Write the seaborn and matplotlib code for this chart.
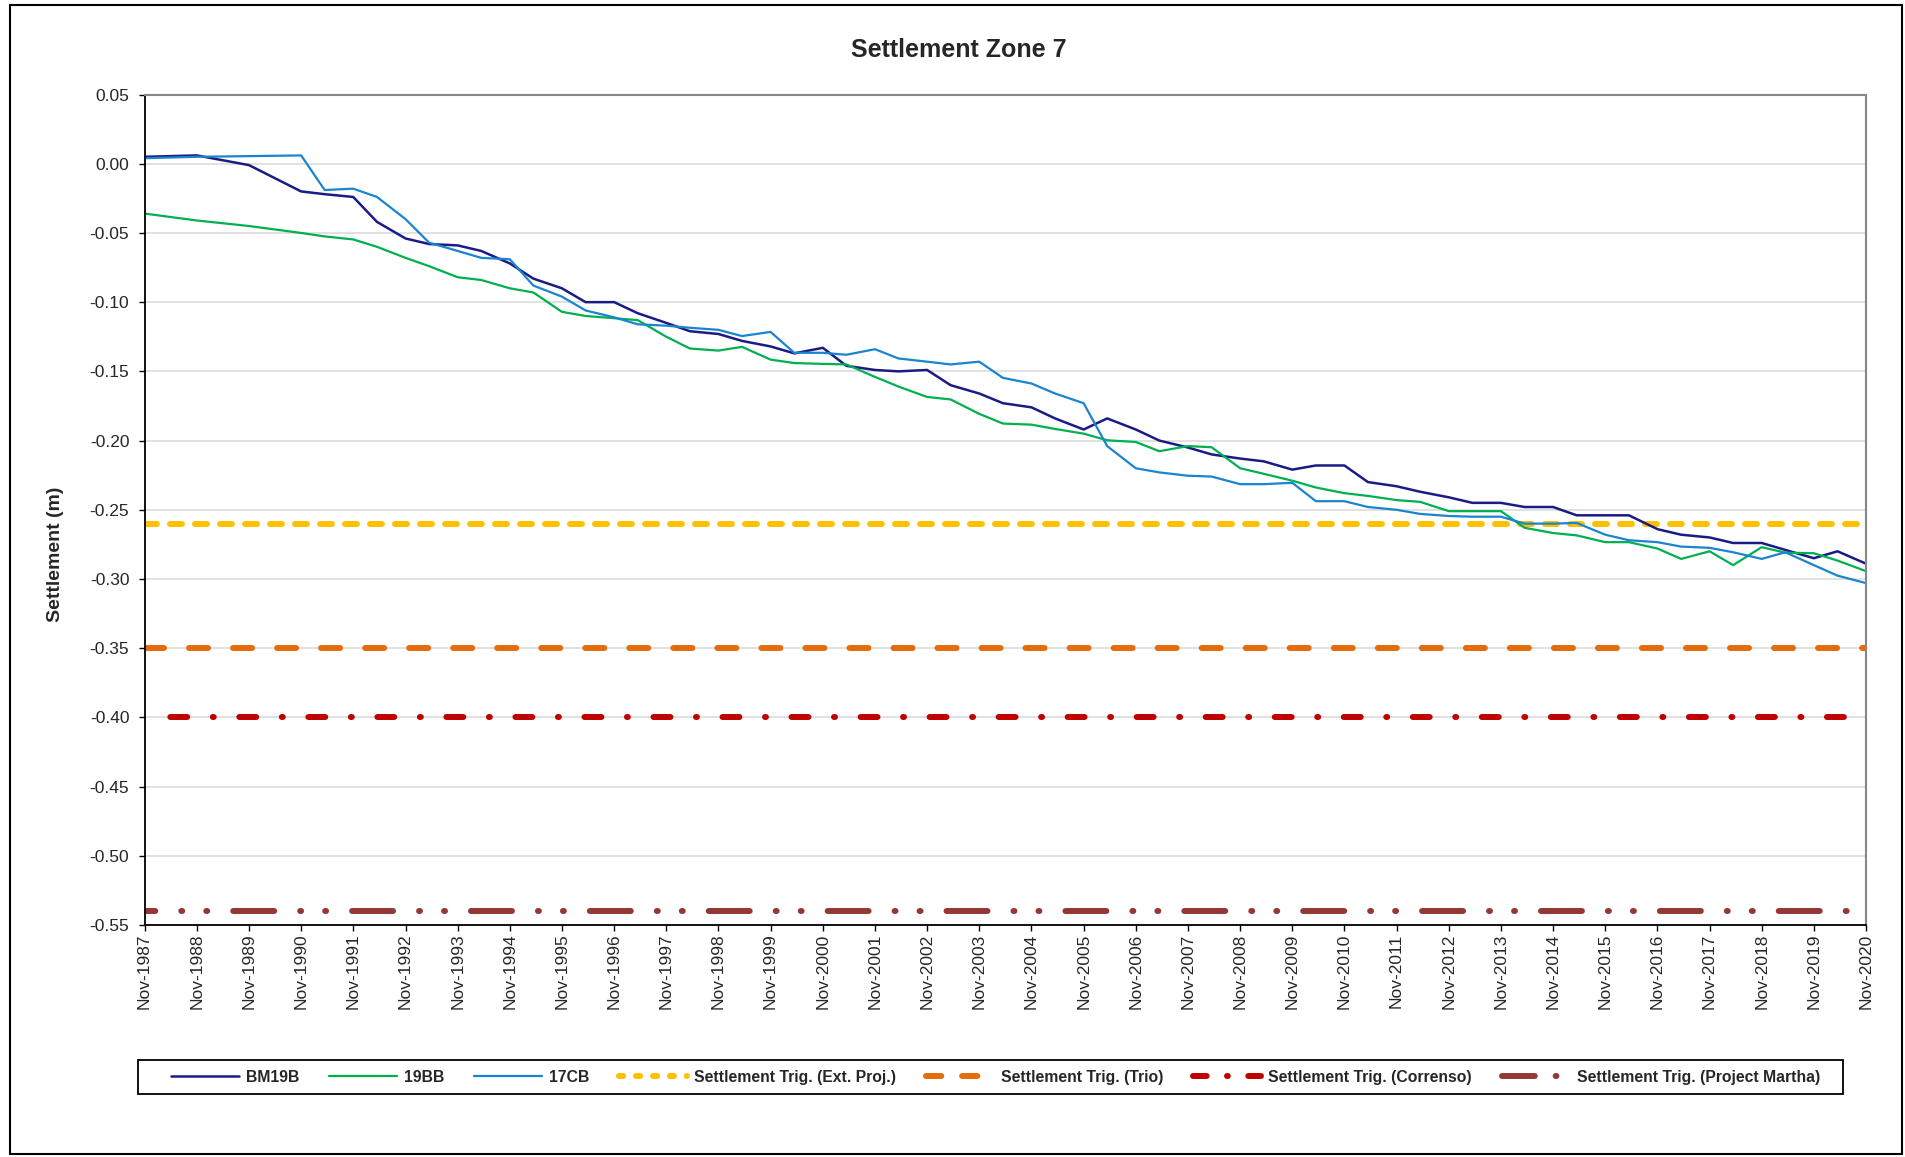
'''Settlement monitoring chart for zone 7 with trigger levels.'''

import pandas as pd
import matplotlib
matplotlib.use('Agg')
import matplotlib.pyplot as plt
import matplotlib.dates as mdates
from matplotlib.lines import Line2D
from matplotlib.patches import Rectangle
import seaborn as sns

#survey dates (annual to 1990, then April / November)
survey_dates = [
    '1987-11-01', '1988-11-01', '1989-11-01', '1990-11-01',
    '1991-04-15', '1991-11-01', '1992-04-15', '1992-11-01', '1993-04-15', '1993-11-01',
    '1994-04-15', '1994-11-01', '1995-04-15', '1995-11-01', '1996-04-15', '1996-11-01',
    '1997-04-15', '1997-11-01', '1998-04-15', '1998-11-01', '1999-04-15', '1999-11-01',
    '2000-04-15', '2000-11-01', '2001-04-15', '2001-11-01', '2002-04-15', '2002-11-01',
    '2003-04-15', '2003-11-01', '2004-04-15', '2004-11-01', '2005-04-15', '2005-11-01',
    '2006-04-15', '2006-11-01', '2007-04-15', '2007-11-01', '2008-04-15', '2008-11-01',
    '2009-04-15', '2009-11-01', '2010-04-15', '2010-11-01', '2011-04-15', '2011-11-01',
    '2012-04-15', '2012-11-01', '2013-04-15', '2013-11-01', '2014-04-15', '2014-11-01',
    '2015-04-15', '2015-11-01', '2016-04-15', '2016-11-01', '2017-04-15', '2017-11-01',
    '2018-04-15', '2018-11-01', '2019-04-15', '2019-11-01', '2020-04-15', '2020-11-01',
]

#settlement readings (m)
bm19b = [
    0.005, 0.006, -0.001, -0.020,
    -0.022, -0.024, -0.042, -0.054, -0.058, -0.059,
    -0.063, -0.072, -0.083, -0.090, -0.100, -0.100,
    -0.108, -0.115, -0.121, -0.123, -0.128, -0.132,
    -0.137, -0.133, -0.146, -0.149, -0.150, -0.149,
    -0.160, -0.166, -0.173, -0.176, -0.184, -0.192,
    -0.184, -0.192, -0.200, -0.205, -0.210, -0.213,
    -0.215, -0.221, -0.218, -0.218, -0.230, -0.233,
    -0.237, -0.241, -0.245, -0.245, -0.248, -0.248,
    -0.254, -0.254, -0.254, -0.264, -0.268, -0.270,
    -0.274, -0.274, -0.279, -0.285, -0.280, -0.289,
]
bb19 = [
    -0.036, -0.041, -0.045, -0.050,
    -0.0525, -0.0547, -0.060, -0.068, -0.074, -0.082,
    -0.084, -0.090, -0.093, -0.107, -0.110, -0.1116,
    -0.113, -0.125, -0.1335, -0.135, -0.1323, -0.1415,
    -0.144, -0.1446, -0.145, -0.154, -0.161, -0.1685,
    -0.1703, -0.1807, -0.1877, -0.1885, -0.1916, -0.195,
    -0.1998, -0.201, -0.2077, -0.204, -0.2048, -0.220,
    -0.224, -0.229, -0.2339, -0.238, -0.240, -0.243,
    -0.2443, -0.251, -0.251, -0.251, -0.263, -0.2668,
    -0.2685, -0.2734, -0.2734, -0.278, -0.2855, -0.280,
    -0.290, -0.277, -0.281, -0.2814, -0.2867, -0.2944,
]
cb17 = [
    0.004, 0.005, 0.0055, 0.006,
    -0.019, -0.018, -0.024, -0.040, -0.057, -0.063,
    -0.068, -0.069, -0.088, -0.096, -0.106, -0.111,
    -0.116, -0.117, -0.1185, -0.120, -0.1245, -0.1215,
    -0.1366, -0.1366, -0.138, -0.134, -0.1407, -0.143,
    -0.145, -0.143, -0.1547, -0.1588, -0.166, -0.173,
    -0.204, -0.220, -0.223, -0.2254, -0.226, -0.2315,
    -0.2315, -0.2305, -0.2438, -0.2438, -0.248, -0.250,
    -0.253, -0.2545, -0.255, -0.255, -0.260, -0.260,
    -0.2595, -0.268, -0.272, -0.2734, -0.2766, -0.2775,
    -0.2807, -0.2855, -0.2807, -0.290, -0.2976, -0.303,
]
gauge_names = ['BM19B', '19BB', '17CB']

#trigger levels (m)
trig_names = ['Settlement Trig. (Ext. Proj.)', 'Settlement Trig. (Trio)',
              'Settlement Trig. (Correnso)', 'Settlement Trig. (Project Martha)']
trig_levels = [-0.26, -0.35, -0.40, -0.54]

#styles
gauge_colors = ['#1B1B86', '#00B050', '#1A84CF']
gauge_widths = [1.8, 1.6, 1.6]
trig_colors = ['#FFC000', '#E46C0A', '#C00000', '#953735']
trig_dashes = [(8.6, 9.4),
               (13.7, 18.0),
               (12.2, 18.4, 0.7, 18.4),
               (29.5, 18.7, 0.7, 17.3, 0.7, 18.7)]
trig_offsets = [0, 0, 31.5, 22.1]
#the legend samples use a tighter version of each pattern
legend_dashes = [(3.0, 9.2),
                 (11.0, 15.0),
                 (9.8, 14.7, 0.6, 14.7),
                 (23.6, 15.0, 0.6, 13.8, 0.6, 15.0)]

sns.set_theme(style='white')
plt.rcParams['font.family'] = ['Liberation Sans', 'DejaVu Sans']
plt.rcParams['axes.unicode_minus'] = False
plt.rcParams['lines.scale_dashes'] = False

fig = plt.figure(figsize=(19.05, 11.57), dpi=100)
ax = fig.add_axes([0.0759, 0.2005, 0.9037, 0.7178])

dates = pd.to_datetime(survey_dates)
for name, vals, col, lw in zip(gauge_names, [bm19b, bb19, cb17], gauge_colors, gauge_widths):
    sns.lineplot(x=dates, y=vals, color=col, linewidth=lw, label=name, ax=ax)

handles, labels = ax.get_legend_handles_labels()
if ax.get_legend() is not None:
    ax.get_legend().remove()

for name, lvl, col, dash, off, ldash in zip(trig_names, trig_levels, trig_colors,
                                            trig_dashes, trig_offsets, legend_dashes):
    ax.axhline(lvl, color=col, linewidth=4.3, linestyle=(off, dash),
               dash_capstyle='round', zorder=1.5)
    handles.append(Line2D([], [], color=col, linewidth=4.3, linestyle=(0, ldash),
                          dash_capstyle='round'))
    labels.append(name)

#axes
ax.set_xlim(pd.Timestamp('1987-11-01'), pd.Timestamp('2020-11-01'))
ax.set_ylim(-0.55, 0.05)
ax.yaxis.set_major_locator(plt.MultipleLocator(0.05))
ax.yaxis.set_major_formatter(plt.FormatStrFormatter('%.2f'))
ax.xaxis.set_major_locator(mdates.YearLocator(base=1, month=11, day=1))
ax.xaxis.set_major_formatter(mdates.DateFormatter('%b-%Y'))
ax.set_xlabel('')
ax.set_ylabel('')

ax.yaxis.grid(True, color='#D9D9D9', linewidth=1.1)
ax.xaxis.grid(False)
ax.set_axisbelow(True)

for side in ['top', 'right']:
    ax.spines[side].set_color('#868686')
    ax.spines[side].set_linewidth(1.5)
for side in ['left', 'bottom']:
    ax.spines[side].set_color('black')
    ax.spines[side].set_linewidth(1.3)

ax.tick_params(axis='both', which='major', bottom=True, left=True, direction='out',
               length=4, width=1, color='black', labelsize=12.5, labelcolor='#262626')
ax.tick_params(axis='x', labelrotation=90, pad=2)
ax.tick_params(axis='y', pad=7)

#titles
fig.text(0.5035, 0.9568, 'Settlement Zone 7', ha='center', va='center',
         fontsize=18, fontweight='bold')
fig.text(0.0289, 0.5212, 'Settlement (m)', ha='center', va='center', rotation=90,
         fontsize=14, fontweight='bold')

#legend in its own box
fig.legend(handles, labels, loc='center left', bbox_to_anchor=(0.0896, 0.0691),
           ncol=7, frameon=False, prop={'weight': 'bold', 'size': 11.3},
           handlelength=4.33, handletextpad=0.45, columnspacing=1.9,
           borderpad=0, borderaxespad=0)
fig.add_artist(Rectangle((0.0726, 0.0542), 0.8949, 0.0296, transform=fig.transFigure,
                         fill=False, edgecolor='black', linewidth=1.3))

#outer chart border
fig.add_artist(Rectangle((0.005, 0.0026), 0.9934, 0.9933, transform=fig.transFigure,
                         fill=False, edgecolor='black', linewidth=1.5))

plt.savefig('out.png', dpi=100)
plt.close()
